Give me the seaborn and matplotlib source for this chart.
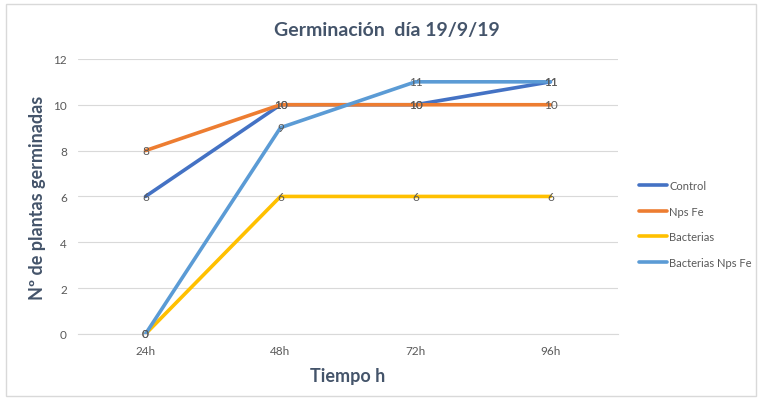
import pandas as pd
import matplotlib.pyplot as plt
import matplotlib.patches as patches
import seaborn as sns


# =========================
# DATA
# =========================

times = ["24h", "48h", "72h", "96h"]

control = [6, 10, 10, 11]
nps_fe = [8, 10, 10, 10]
bacterias = [0, 6, 6, 6]
bacterias_nps_fe = [0, 9, 11, 11]

series_names = ["Control", "Nps Fe", "Bacterias", "Bacterias Nps Fe"]
series_values = [control, nps_fe, bacterias, bacterias_nps_fe]
colors = ["#4472C4", "#ED7D31", "#FFC000", "#5B9BD5"]


# =========================
# LONG TABLE
# =========================

rows = []
for name, vals in zip(series_names, series_values):
    for i, v in enumerate(vals):
        rows.append({"pos": i, "Tiempo": times[i], "serie": name, "valor": v})

df = pd.DataFrame(rows)


# =========================
# PLOT
# =========================

sns.set_style("white")
plt.rcParams["font.family"] = ["Lato", "DejaVu Sans"]

fig = plt.figure(figsize=(7.61, 4.02), dpi=100)
ax = fig.add_axes([0.1025, 0.1667, 0.7095, 0.6843])

sns.lineplot(
    data=df,
    x="pos",
    y="valor",
    hue="serie",
    hue_order=series_names,
    palette=colors,
    linewidth=2.6,
    ax=ax
)

# data labels
for name, vals in zip(series_names, series_values):
    for i, v in enumerate(vals):
        ax.text(i, v, str(v), ha="center", va="center",
                fontsize=8.5, color="#595959", zorder=5)

ax.set_xlim(-0.5, 3.5)
ax.set_ylim(0, 12)
ax.set_yticks(range(0, 13, 2))
ax.set_xticks(range(len(times)))
ax.set_xticklabels(times)
ax.set_xticks([-0.5, 0.5, 1.5, 2.5, 3.5], minor=True)

ax.grid(axis="y", color="#D9D9D9", linewidth=0.8)
ax.set_axisbelow(True)

for side in ["top", "right", "left"]:
    ax.spines[side].set_visible(False)
ax.spines["bottom"].set_color("#D9D9D9")

ax.tick_params(axis="both", which="major", labelsize=8.5,
               colors="#595959", length=0, pad=8)
ax.tick_params(axis="x", which="minor", length=5, color="#D9D9D9")

ax.set_xlabel("Tiempo h", fontsize=13, fontweight="bold",
              color="#44546A", labelpad=8)
ax.set_ylabel("Nº de plantas germinadas", fontsize=13, fontweight="bold",
              color="#44546A", labelpad=5)

fig.text(0.509, 0.925, "Germinación  día 19/9/19", ha="center", va="center",
         fontsize=14, fontweight="bold", color="#44546A")

handles, labels = ax.get_legend_handles_labels()
ax.legend(handles, labels, loc="center left", bbox_to_anchor=(1.02, 0.40),
          frameon=False, fontsize=8, labelcolor="#595959",
          handlelength=2.5, labelspacing=1.3, handletextpad=0.25)

# chart border
fig.patches.append(patches.Rectangle(
    (0.008, 0.012), 0.986, 0.976, transform=fig.transFigure,
    fill=False, edgecolor="#D9D9D9", linewidth=1
))

plt.savefig("out.png", dpi=100)
plt.close()
